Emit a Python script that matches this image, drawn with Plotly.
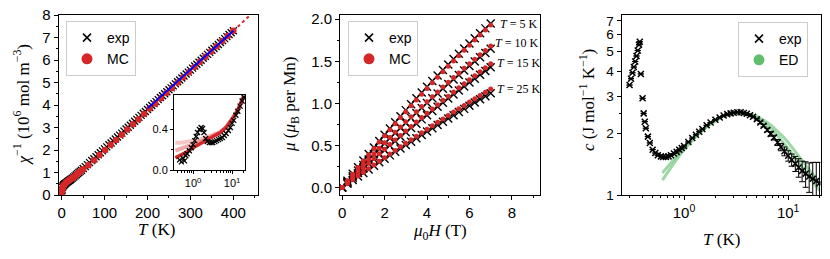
import plotly.graph_objects as go

# ---------------- Panel 1: inverse susceptibility ----------------
T_exp1 = [0.4, 0.6, 1, 2, 3, 4, 5, 6, 7, 8, 10, 12, 14, 16, 18, 20, 22, 25, 28, 31, 34, 37, 40, 43, 46,
          50, 55, 60, 65, 70, 75, 80, 85, 90, 95, 100, 105, 110, 115, 120, 125, 130, 135, 140,
          145, 150, 155, 160, 165, 170, 175, 180, 185, 190, 195, 200, 205, 210, 215, 220, 225,
          230, 235, 240, 245, 250, 255, 260, 265, 270, 275, 280, 285, 290, 295, 300, 305, 310,
          315, 320, 325, 330, 335, 340, 345, 350, 355, 360, 365, 370, 375, 380, 385, 390, 395, 400]
chi_exp1 = [0.05, 0.12, 0.22, 0.34, 0.40, 0.43, 0.45, 0.47, 0.49, 0.50, 0.53, 0.56, 0.59, 0.62, 0.65,
            0.68, 0.71, 0.75, 0.80, 0.85, 0.90, 0.95, 1.00, 1.05, 1.10,
            1.18, 1.26, 1.35, 1.44, 1.53, 1.61, 1.70, 1.79, 1.88, 1.96, 2.05, 2.14, 2.23, 2.31, 2.40,
            2.49, 2.58, 2.66, 2.75, 2.84, 2.93, 3.01, 3.10, 3.19, 3.28, 3.36, 3.45, 3.54, 3.63, 3.71,
            3.80, 3.89, 3.98, 4.06, 4.15, 4.24, 4.33, 4.41, 4.50, 4.59, 4.68, 4.76, 4.85, 4.94, 5.03,
            5.11, 5.20, 5.29, 5.38, 5.46, 5.55, 5.64, 5.73, 5.81, 5.90, 5.99, 6.08, 6.16, 6.25, 6.34,
            6.43, 6.51, 6.60, 6.69, 6.78, 6.86, 6.95, 7.04, 7.13, 7.21, 7.30]
T_mc1 = [0.3, 0.5, 0.7, 1, 1.5, 2, 3, 4, 5, 6, 8, 10, 12, 14, 16, 18, 20, 23, 26, 29, 32, 35, 38,
         41, 44, 47, 50, 62, 75, 88, 101, 114, 127, 140, 153, 166, 179, 192, 205, 218, 231, 244,
         257, 270, 283, 296, 309, 322, 335, 348, 361, 374, 387, 400]
chi_mc1 = [0.10, 0.16, 0.20, 0.24, 0.29, 0.33, 0.38, 0.42, 0.44, 0.46, 0.50, 0.54, 0.58, 0.61, 0.64,
           0.67, 0.70, 0.73, 0.77, 0.81, 0.86, 0.91, 0.96, 1.01, 1.06, 1.11, 1.15, 1.32, 1.55, 1.78,
           2.00, 2.23, 2.45, 2.68, 2.91, 3.14, 3.37, 3.60, 3.84, 4.07, 4.30, 4.53, 4.76, 5.00, 5.23,
           5.46, 5.69, 5.92, 6.15, 6.38, 6.61, 6.84, 7.07, 7.30]
T_mcext = [400, 413, 426, 445]
chi_mcext = [7.30, 7.53, 7.76, 8.09]
T_fit = [200, 400]
chi_fit = [3.85, 7.30]

# inset (log T)
T_ins_exp = [0.45, 0.5, 0.55, 0.6, 0.65, 0.7, 0.8, 0.9, 1.0, 1.1, 1.2, 1.3, 1.45, 1.6, 1.75, 1.9,
             2.1, 2.3, 2.6, 2.9, 3.2, 3.6, 4.0, 4.5, 5, 5.6, 6.3, 7, 8, 9, 10, 11, 12.5, 14, 16, 18, 20]
chi_ins_exp = [0.10, 0.08, 0.12, 0.09, 0.14, 0.16, 0.19, 0.22, 0.25, 0.29, 0.33, 0.37, 0.40, 0.42,
               0.41, 0.37, 0.31, 0.28, 0.27, 0.27, 0.27, 0.28, 0.29, 0.30, 0.31, 0.32, 0.34, 0.36,
               0.39, 0.42, 0.46, 0.49, 0.54, 0.58, 0.63, 0.68, 0.72]
T_ins_mc = [0.35, 0.5, 0.7, 1, 1.5, 2, 3, 4, 5, 7, 10, 14, 20]
chi_ins_mc = [0.12, 0.15, 0.18, 0.22, 0.26, 0.29, 0.33, 0.35, 0.37, 0.42, 0.50, 0.59, 0.73]
chi_ins_mc_b = [0.27, 0.27, 0.28, 0.29, 0.30, 0.32, 0.34, 0.36, 0.38, 0.42, 0.50, 0.59, 0.73]
chi_ins_mc_c = [0.19, 0.21, 0.23, 0.25, 0.28, 0.30, 0.33, 0.35, 0.37, 0.42, 0.50, 0.59, 0.73]

# ---------------- Panel 2: magnetisation ----------------
H = [0, 0.25, 0.5, 0.75, 1.0, 1.25, 1.5, 1.75, 2.0, 2.25, 2.5, 2.75, 3.0, 3.25, 3.5, 3.75, 4.0,
     4.25, 4.5, 4.75, 5.0, 5.25, 5.5, 5.75, 6.0, 6.25, 6.5, 6.75, 7.0]
mu_exp = {
    5: [0, 0.081, 0.162, 0.241, 0.320, 0.398, 0.475, 0.551, 0.626, 0.701, 0.774, 0.847, 0.919,
        0.990, 1.060, 1.128, 1.197, 1.265, 1.331, 1.396, 1.462, 1.526, 1.589, 1.651, 1.712, 1.773,
        1.832, 1.891, 1.949],
    10: [0, 0.067, 0.134, 0.200, 0.266, 0.331, 0.395, 0.458, 0.521, 0.584, 0.645, 0.707, 0.767,
         0.827, 0.886, 0.945, 1.003, 1.060, 1.117, 1.173, 1.229, 1.283, 1.338, 1.391, 1.444, 1.497,
         1.548, 1.599, 1.650],
    15: [0, 0.057, 0.114, 0.170, 0.225, 0.281, 0.335, 0.390, 0.444, 0.497, 0.550, 0.603, 0.655,
         0.707, 0.758, 0.809, 0.859, 0.909, 0.959, 1.008, 1.057, 1.105, 1.153, 1.200, 1.247, 1.293,
         1.339, 1.385, 1.430],
    25: [0, 0.043, 0.087, 0.129, 0.172, 0.214, 0.257, 0.298, 0.340, 0.381, 0.423, 0.463, 0.504,
         0.544, 0.585, 0.624, 0.664, 0.703, 0.743, 0.781, 0.820, 0.858, 0.897, 0.934, 0.972, 1.009,
         1.047, 1.083, 1.120],
}
mu_mc = {
    5: [0, 0.079, 0.158, 0.236, 0.313, 0.389, 0.464, 0.539, 0.613, 0.686, 0.758, 0.830, 0.901,
        0.971, 1.040, 1.109, 1.177, 1.244, 1.310, 1.375, 1.440, 1.504, 1.567, 1.630, 1.691, 1.752,
        1.812, 1.872, 1.930],
    10: [0, 0.068, 0.136, 0.204, 0.270, 0.336, 0.401, 0.466, 0.530, 0.594, 0.656, 0.719, 0.780,
         0.841, 0.901, 0.961, 1.020, 1.078, 1.136, 1.194, 1.250, 1.306, 1.361, 1.416, 1.470, 1.524,
         1.576, 1.629, 1.680],
    15: [0, 0.058, 0.116, 0.174, 0.231, 0.288, 0.344, 0.400, 0.455, 0.510, 0.564, 0.618, 0.672,
         0.725, 0.778, 0.830, 0.882, 0.933, 0.984, 1.035, 1.085, 1.135, 1.184, 1.233, 1.281, 1.329,
         1.376, 1.423, 1.470],
    25: [0, 0.045, 0.090, 0.135, 0.179, 0.223, 0.267, 0.311, 0.354, 0.397, 0.440, 0.483, 0.525,
         0.568, 0.609, 0.651, 0.692, 0.734, 0.775, 0.815, 0.856, 0.896, 0.936, 0.975, 1.015, 1.054,
         1.093, 1.131, 1.170],
}
T_labels = [5, 10, 15, 25]
label_x = [7.34, 7.10, 7.18, 7.18]
label_y = [1.94, 1.72, 1.48, 1.17]

# ---------------- Panel 3: specific heat ----------------
T_c = [0.30, 0.31, 0.32, 0.33, 0.34, 0.35, 0.36, 0.37, 0.376, 0.385, 0.40, 0.41, 0.42, 0.43, 0.45,
       0.47, 0.50, 0.53, 0.56, 0.60, 0.63, 0.67, 0.71, 0.75, 0.80, 0.85, 0.90, 0.95, 1.0, 1.1, 1.2,
       1.3, 1.4, 1.5, 1.65, 1.8, 2.0, 2.2, 2.4, 2.6, 2.8, 3.0, 3.25, 3.5, 3.75, 4.0, 4.3, 4.6, 5.0,
       5.4, 5.8, 6.3, 6.8, 7.3, 7.9, 8.5, 9.2, 10, 10.8, 11.7, 12.6, 13.6, 14.7, 15.9, 17.2, 18.6, 20]
c_exp = [3.42, 3.67, 3.92, 4.18, 4.45, 4.73, 5.03, 5.36, 5.55, 3.87, 2.95, 2.49, 2.27, 2.11, 1.92,
         1.79, 1.66, 1.60, 1.56, 1.54, 1.53, 1.53, 1.54, 1.56, 1.59, 1.62, 1.66, 1.69, 1.73, 1.81,
         1.89, 1.96, 2.03, 2.09, 2.18, 2.25, 2.32, 2.38, 2.43, 2.47, 2.49, 2.51, 2.52, 2.52, 2.50,
         2.48, 2.44, 2.40, 2.33, 2.25, 2.17, 2.07, 1.98, 1.90, 1.80, 1.71, 1.63, 1.55, 1.48, 1.42,
         1.36, 1.31, 1.27, 1.23, 1.20, 1.17, 1.14]
c_err = [0] * 48 + [0.02, 0.03, 0.03, 0.04, 0.05, 0.05, 0.06, 0.07, 0.08, 0.09, 0.10, 0.12, 0.14,
                    0.15, 0.18, 0.20, 0.24, 0.27, 0.30]
T_ed = [0.62, 0.66, 0.7, 0.75, 0.8, 0.85, 0.9, 1.0, 1.1, 1.2, 1.35, 1.5, 1.7, 2.0, 2.3, 2.6, 3.0,
        3.5, 4.0, 4.5, 5.0, 5.6, 6.3, 7.0, 8.0, 9.0, 10, 11.5, 13, 15, 17, 20]
c_ed_a = [1.28, 1.33, 1.38, 1.44, 1.50, 1.55, 1.60, 1.70, 1.79, 1.87, 1.98, 2.07, 2.18, 2.30, 2.40,
          2.46, 2.50, 2.51, 2.49, 2.46, 2.41, 2.34, 2.25, 2.16, 2.03, 1.91, 1.80, 1.64, 1.52, 1.38,
          1.27, 1.14]
c_ed_b = [1.18, 1.23, 1.29, 1.36, 1.43, 1.49, 1.55, 1.66, 1.76, 1.84, 1.96, 2.06, 2.17, 2.29, 2.39,
          2.45, 2.49, 2.50, 2.48, 2.44, 2.38, 2.29, 2.18, 2.07, 1.93, 1.80, 1.68, 1.53, 1.41, 1.28,
          1.17, 1.05]

RED = "#d62728"
GREEN = "rgb(96,190,110)"
SANS = "Liberation Sans, Arial, sans-serif"
SERIF = "Liberation Serif, DejaVu Serif, serif"

fig = go.Figure()

def xmark(size, width=1.3):
    return dict(symbol="x-thin", size=size, color="black", line=dict(width=width, color="black"))

# panel 1
fig.add_trace(go.Scatter(x=T_exp1, y=chi_exp1, mode="markers", marker=xmark(7, 1.3),
                         showlegend=False, xaxis="x", yaxis="y"))
fig.add_trace(go.Scatter(x=T_mc1, y=chi_mc1, mode="markers",
                         marker=dict(color=RED, size=6.5), showlegend=False, xaxis="x", yaxis="y"))
fig.add_trace(go.Scatter(x=T_mcext, y=chi_mcext, mode="lines",
                         line=dict(color=RED, width=2, dash="dot"), showlegend=False,
                         xaxis="x", yaxis="y"))
fig.add_trace(go.Scatter(x=T_fit, y=chi_fit, mode="lines", line=dict(color="blue", width=2),
                         showlegend=False, xaxis="x", yaxis="y"))
fig.add_trace(go.Scatter(x=[None], y=[None], mode="markers", marker=xmark(8, 1.5), name="exp",
                         legend="legend", xaxis="x", yaxis="y"))
fig.add_trace(go.Scatter(x=[None], y=[None], mode="markers", marker=dict(color=RED, size=11),
                         name="MC", legend="legend", xaxis="x", yaxis="y"))

# inset
fig.add_trace(go.Scatter(x=T_ins_mc, y=chi_ins_mc_b, mode="lines",
                         line=dict(color="rgba(240,160,160,0.6)", width=4), showlegend=False,
                         xaxis="x4", yaxis="y4"))
fig.add_trace(go.Scatter(x=T_ins_mc, y=chi_ins_mc_c, mode="lines",
                         line=dict(color="rgba(230,110,110,0.6)", width=4), showlegend=False,
                         xaxis="x4", yaxis="y4"))
fig.add_trace(go.Scatter(x=T_ins_mc, y=chi_ins_mc, mode="lines",
                         line=dict(color=RED, width=3.5), showlegend=False,
                         xaxis="x4", yaxis="y4"))
fig.add_trace(go.Scatter(x=T_ins_exp, y=chi_ins_exp, mode="markers", marker=xmark(5),
                         showlegend=False, xaxis="x4", yaxis="y4"))

# panel 2
for t in T_labels:
    fig.add_trace(go.Scatter(x=H, y=mu_exp[t], mode="markers", marker=xmark(8, 1.4),
                             showlegend=False, xaxis="x2", yaxis="y2"))
for t in T_labels:
    fig.add_trace(go.Scatter(x=H, y=mu_mc[t], mode="markers", marker=dict(color=RED, size=5),
                             showlegend=False, xaxis="x2", yaxis="y2"))
fig.add_trace(go.Scatter(x=[None], y=[None], mode="markers", marker=xmark(8, 1.5), name="exp",
                         legend="legend2", xaxis="x2", yaxis="y2"))
fig.add_trace(go.Scatter(x=[None], y=[None], mode="markers", marker=dict(color=RED, size=11),
                         name="MC", legend="legend2", xaxis="x2", yaxis="y2"))

# panel 3
for cc in (c_ed_a, c_ed_b):
    fig.add_trace(go.Scatter(x=T_ed, y=cc, mode="lines", line=dict(color=GREEN, width=3),
                             opacity=0.6, showlegend=False, xaxis="x3", yaxis="y3"))
fig.add_trace(go.Scatter(x=T_c, y=c_exp, mode="markers", marker=xmark(6, 1.5),
                         error_y=dict(type="data", array=c_err, color="black", thickness=1, width=3),
                         showlegend=False, xaxis="x3", yaxis="y3"))
fig.add_trace(go.Scatter(x=[None], y=[None], mode="markers", marker=xmark(8, 1.5), name="exp",
                         legend="legend3", xaxis="x3", yaxis="y3"))
fig.add_trace(go.Scatter(x=[None], y=[None], mode="markers", marker=dict(color=GREEN, size=11),
                         name="ED", legend="legend3", xaxis="x3", yaxis="y3"))

W, Hh = 830, 259
def px(x0, x1):
    return [x0 / W, x1 / W]
def py(top, bot):
    return [1 - bot / Hh, 1 - top / Hh]

base = dict(showline=True, linecolor="black", linewidth=1, mirror=True, ticks="outside",
            ticklen=4, tickwidth=1, tickcolor="black", showgrid=False, zeroline=False,
            automargin=False, tickfont=dict(family=SANS, size=15, color="black"))
minor = dict(ticklen=2, tickwidth=0.8, tickcolor="black", ticks="outside", showgrid=False)

lay = dict(width=W, height=Hh, autosize=False,
           margin=dict(l=0, r=0, t=0, b=0, pad=0, autoexpand=False), plot_bgcolor="white",
           paper_bgcolor="white", font=dict(family=SANS, size=15, color="black"))

lay["xaxis"] = dict(base, domain=px(58.5, 258), range=[-7.5, 457.5], tickvals=[0, 100, 200, 300, 400],
                    minor=dict(minor, dtick=50), anchor="y")
lay["yaxis"] = dict(base, domain=py(15, 195), range=[0, 8], dtick=1,
                    minor=dict(minor, dtick=0.5), anchor="x")
lay["xaxis2"] = dict(base, domain=px(340, 539.5), range=[-0.1, 9.3], tickvals=[0, 2, 4, 6, 8],
                     minor=dict(minor, dtick=1), anchor="y2")
lay["yaxis2"] = dict(base, domain=py(15, 195), range=[-0.09, 2.05], tickvals=[0, 0.5, 1, 1.5, 2],
                     tickformat=".1f", minor=dict(minor, dtick=0.25), anchor="x2")
lay["xaxis3"] = dict(base, domain=px(621.5, 820.5), type="log", range=[-0.6, 1.31],
                     tickvals=[1, 10], ticktext=["10<sup>0</sup>", "10<sup>1</sup>"],
                     minor=dict(minor, tickvals=[0.3, 0.4, 0.5, 0.6, 0.7, 0.8, 0.9, 2, 3, 4, 5, 6,
                                                 7, 8, 9, 20]), anchor="y3")
lay["yaxis3"] = dict(base, domain=py(15, 195), type="log", range=[0, 0.874],
                     tickvals=[1, 2, 3, 4, 5, 6, 7], ticktext=["1", "2", "3", "4", "5", "6", "7"],
                     tickfont=dict(family=SANS, size=13.5, color="black"),
                     minor=dict(minor, tickvals=[1.5, 2.5]), anchor="x3")
lay["xaxis4"] = dict(base, domain=px(174, 245), type="log", range=[-0.49, 1.33],
                     tickvals=[1, 10], ticktext=["10<sup>0</sup>", "10<sup>1</sup>"],
                     tickfont=dict(family=SANS, size=11, color="black"), ticklen=3,
                     minor=dict(minor, tickvals=[0.4, 0.5, 0.6, 0.7, 0.8, 0.9, 2, 3, 4, 5, 6, 7,
                                                 8, 9, 20]), anchor="y4")
lay["yaxis4"] = dict(base, domain=py(95, 170), range=[0, 0.74], tickvals=[0, 0.4],
                     tickformat=".1f", tickfont=dict(family=SANS, size=11, color="black"), ticklen=3,
                     minor=dict(minor, tickvals=[0.2, 0.6]), anchor="x4")

leg = dict(bgcolor="rgba(255,255,255,0.85)", bordercolor="#cccccc", borderwidth=1,
           font=dict(family=SANS, size=14, color="black"), xanchor="left", yanchor="top",
           tracegroupgap=0)
lay["legend"] = dict(leg, x=66 / W, y=1 - 21 / Hh)
lay["legend2"] = dict(leg, x=348 / W, y=1 - 21 / Hh)
lay["legend3"] = dict(leg, x=738 / W, y=1 - 22 / Hh)

ann = []
tfont = dict(family=SERIF, size=17, color="black")
def pann(text, xp, yp, angle=0):
    return dict(text=text, x=xp / W, y=1 - yp / Hh, xref="paper", yref="paper", xanchor="center",
                yanchor="middle", showarrow=False, textangle=angle, font=tfont)
ann.append(pann("<i>T</i> (K)", 156.7, 229))
ann.append(pann("<i>μ</i><sub>0</sub><i>H</i> (T)", 439.7, 232))
ann.append(pann("<i>T</i> (K)", 721, 239))
ann.append(pann("<i>χ</i><sup>−1</sup> (10<sup>6</sup> mol m<sup>−3</sup>)", 21.5, 105, -90))
ann.append(pann("<i>μ</i> (<i>μ</i><sub>B</sub> per Mn)", 291, 105, -90))
ann.append(pann("<i>c</i> (J mol<sup>−1</sup> K<sup>−1</sup>)", 587, 100, -90))
for t, lx, ly in zip(T_labels, label_x, label_y):
    ann.append(dict(text=f"<i>T</i> = {t} K", x=lx, y=ly, xref="x2", yref="y2", xanchor="left",
                    yanchor="middle", showarrow=False,
                    font=dict(family=SERIF, size=12, color="black")))
lay["annotations"] = ann

fig.update_layout(**lay)
fig.write_html("out.html", config={"displayModeBar": False},
               post_script="document.body.style.margin='0';document.body.style.padding='0';")
